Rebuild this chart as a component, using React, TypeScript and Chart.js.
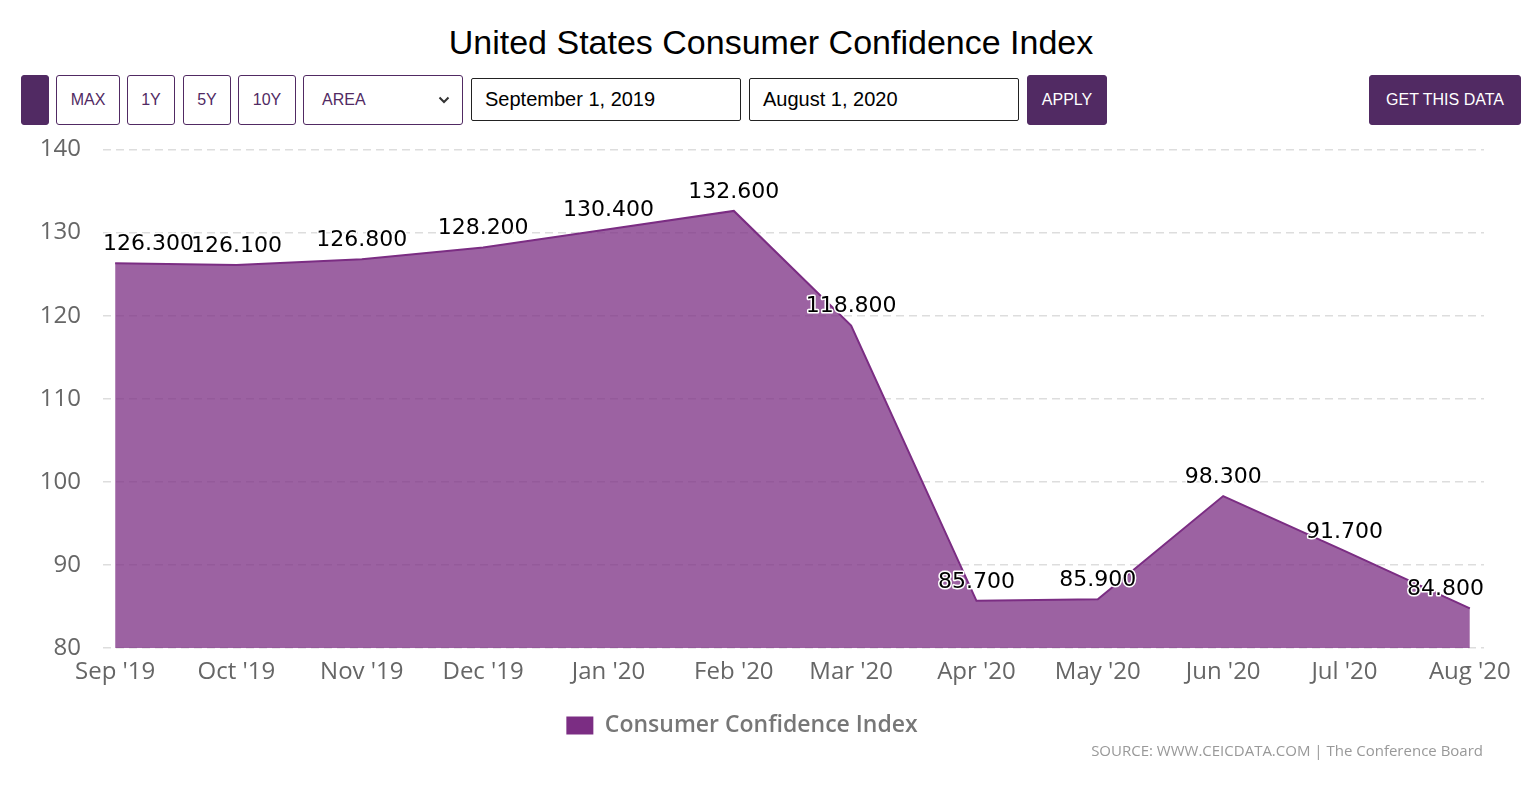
import React, { useEffect, useRef } from "react";
import { Chart, registerables } from "chart.js";

Chart.register(...registerables);

const monthLabels = ["Sep '19", "Oct '19", "Nov '19", "Dec '19", "Jan '20", "Feb '20", "Mar '20", "Apr '20", "May '20", "Jun '20", "Jul '20", "Aug '20"];
const monthStarts = ["2019-09-01", "2019-10-01", "2019-11-01", "2019-12-01", "2020-01-01", "2020-02-01", "2020-03-01", "2020-04-01", "2020-05-01", "2020-06-01", "2020-07-01", "2020-08-01"];
const confidenceValues = [126.3, 126.1, 126.8, 128.2, 130.4, 132.6, 118.8, 85.7, 85.9, 98.3, 91.7, 84.8];
const yTicks = [80, 90, 100, 110, 120, 130, 140];

const PURPLE = "#7b2d83";
const DARK = "#512a63";

const dayIndex = (s: string) => {
  const [y, m, d] = s.split("-").map(Number);
  const [y0, m0, d0] = monthStarts[0].split("-").map(Number);
  return Math.round((Date.UTC(y, m - 1, d) - Date.UTC(y0, m0 - 1, d0)) / 86400000);
};
const xDays = monthStarts.map(dayIndex);

const labelPlugin = {
  id: "valueLabels",
  afterDatasetsDraw(chart: any) {
    const { ctx, chartArea } = chart;
    const meta = chart.getDatasetMeta(0);
    ctx.save();
    ctx.font = "22px 'DejaVu Sans'";
    ctx.textAlign = "center";
    ctx.textBaseline = "middle";
    ctx.lineJoin = "round";
    meta.data.forEach((pt: any, i: number) => {
      const txt = confidenceValues[i].toFixed(3);
      const w = ctx.measureText(txt).width;
      let x = pt.x;
      if (x - w / 2 < chartArea.left) x = chartArea.left + w / 2;
      if (x + w / 2 > chartArea.right) x = chartArea.right - w / 2;
      const y = pt.y - 19;
      ctx.strokeStyle = "#fff";
      ctx.lineWidth = 3;
      ctx.strokeText(txt, x, y);
      ctx.fillStyle = "#000";
      ctx.fillText(txt, x, y);
    });
    ctx.restore();
  },
};

function ChartCanvas() {
  const ref = useRef<HTMLCanvasElement>(null);
  useEffect(() => {
    if (!ref.current) return;
    const chart = new Chart(ref.current, {
      type: "line",
      data: {
        datasets: [
          {
            label: "Consumer Confidence Index",
            data: xDays.map((x, i) => ({ x, y: confidenceValues[i] })),
            borderColor: PURPLE,
            backgroundColor: "rgba(123,45,131,0.75)",
            borderWidth: 2,
            pointRadius: 0,
            tension: 0,
            fill: "start",
          },
        ],
      },
      options: {
        animation: false,
        responsive: false,
        maintainAspectRatio: false,
        layout: { padding: { top: 12, right: 44, left: 0, bottom: 0 } },
        plugins: {
          legend: {
            position: "bottom",
            labels: {
              boxWidth: 27,
              boxHeight: 18,
              padding: 17,
              color: "#777",
              font: { family: "'Open Sans'", size: 23, weight: "600" },
              generateLabels: () => [
                {
                  text: "Consumer Confidence Index",
                  fillStyle: PURPLE,
                  strokeStyle: PURPLE,
                  lineWidth: 0,
                  hidden: false,
                  datasetIndex: 0,
                  fontColor: "#777",
                } as any,
              ],
            },
          },
          tooltip: { enabled: false },
        },
        scales: {
          x: {
            type: "linear",
            min: -3,
            max: xDays[xDays.length - 1] + 3.5,
            grid: { display: false, drawTicks: false },
            border: { display: false },
            afterBuildTicks: (s: any) => {
              s.ticks = xDays.map((v) => ({ value: v }));
            },
            ticks: {
              autoSkip: false,
              maxRotation: 0,
              padding: 10,
              color: "#666",
              font: { family: "'Open Sans'", size: 24 },
              callback: (v: any) => {
                const i = xDays.indexOf(Number(v));
                return i >= 0 ? monthLabels[i] : "";
              },
            },
          },
          y: {
            min: yTicks[0],
            max: yTicks[yTicks.length - 1],
            afterBuildTicks: (s: any) => {
              s.ticks = yTicks.map((v) => ({ value: v }));
            },
            afterFit: (s: any) => {
              s.width = 103;
            },
            grid: { color: "#dddddd", lineWidth: 1.5, drawTicks: false },
            border: { display: false, dash: [8, 5] },
            ticks: {
              padding: 22,
              color: "#666",
              font: { family: "'Open Sans'", size: 24 },
            },
          },
        },
      } as any,
      plugins: [labelPlugin],
    });
    return () => chart.destroy();
  }, []);
  return <canvas ref={ref} width={1528} height={634} style={{ position: "absolute", left: 0, top: 113, width: 1528, height: 634 }} />;
}

const btn: React.CSSProperties = {
  position: "absolute",
  top: 75,
  height: 50,
  boxSizing: "border-box",
  border: `1px solid ${DARK}`,
  borderRadius: 3,
  color: DARK,
  background: "#fff",
  fontFamily: "'Liberation Sans', Arial, sans-serif",
  fontSize: 16,
  display: "flex",
  alignItems: "center",
  justifyContent: "center",
};

const input: React.CSSProperties = {
  position: "absolute",
  top: 78,
  height: 43,
  boxSizing: "border-box",
  border: "1px solid #222",
  borderRadius: 2,
  color: "#000",
  background: "#fff",
  fontFamily: "'Liberation Sans', Arial, sans-serif",
  fontSize: 20,
  display: "flex",
  alignItems: "center",
  paddingLeft: 13,
};

export default function App() {
  return (
    <div style={{ position: "absolute", left: 0, top: 0, width: 1528, height: 800, background: "#fff" }}>
      <div style={{ position: "absolute", left: 0, top: 19, width: 1542, textAlign: "center", fontFamily: "'Liberation Sans', Arial, sans-serif", fontSize: 34, color: "#000", lineHeight: "46px" }}>
        United States Consumer Confidence Index
      </div>
      <div style={{ ...btn, left: 21, width: 28, background: DARK }} />
      <div style={{ ...btn, left: 56, width: 64 }}>MAX</div>
      <div style={{ ...btn, left: 127, width: 48 }}>1Y</div>
      <div style={{ ...btn, left: 183, width: 48 }}>5Y</div>
      <div style={{ ...btn, left: 238, width: 58 }}>10Y</div>
      <div style={{ ...btn, left: 303, width: 160, justifyContent: "space-between", padding: "0 12px 0 18px" }}>
        <span>AREA</span>
        <svg width="12" height="8" viewBox="0 0 12 8"><path d="M1.5 1.5 L6 6 L10.5 1.5" fill="none" stroke="#333" strokeWidth="2" /></svg>
      </div>
      <div style={{ ...input, left: 471, width: 270 }}>September 1, 2019</div>
      <div style={{ ...input, left: 749, width: 270 }}>August 1, 2020</div>
      <div style={{ ...btn, left: 1027, width: 80, background: DARK, color: "#fff" }}>APPLY</div>
      <div style={{ ...btn, left: 1369, width: 152, background: DARK, color: "#fff" }}>GET THIS DATA</div>
      <ChartCanvas />
      <div style={{ position: "absolute", right: 45, top: 740, fontFamily: "'Liberation Sans Narrow', 'Open Sans', sans-serif", fontSize: 15, color: "#999", lineHeight: "20px", whiteSpace: "nowrap" }}>
        SOURCE: WWW.CEICDATA.COM | The Conference Board
      </div>
    </div>
  );
}
